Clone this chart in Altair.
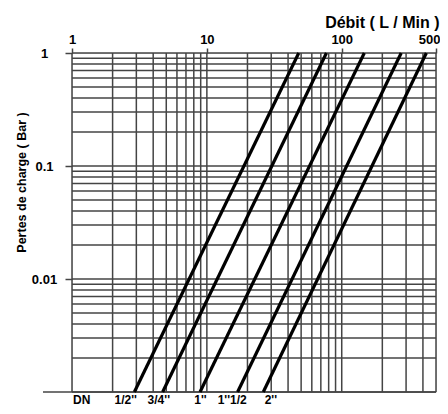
import altair as alt
import pandas as pd

# Grid values
x_grid = [1, 2, 3, 4, 5, 6, 7, 8, 9, 10, 20, 30, 40, 50, 60, 70, 80, 90, 100, 200, 300, 400, 500]
y_grid = [0.001, 0.002, 0.003, 0.004, 0.005, 0.006, 0.007, 0.008, 0.009,
          0.01, 0.02, 0.03, 0.04, 0.05, 0.06, 0.07, 0.08, 0.09,
          0.1, 0.2, 0.3, 0.4, 0.5, 0.6, 0.7, 0.8, 0.9, 1]

# Curves (flow at 0.001 bar and at 1 bar)
dn = ["1/2''", "3/4''", "1''", "1''1/2", "2''"]
q_low = [2.9, 4.7, 8.9, 16.9, 26.2]
q_high = [48, 77, 147, 276, 424]
p_low = 0.001
p_high = 1

# Bottom labels (flow position)
label_text = ["DN", "1/2''", "3/4''", "1''", "1''1/2", "2''"]
label_q = [1.18, 2.5, 4.4, 8.96, 15.4, 29.8]

x_ticks = [1, 10, 100, 500]
y_ticks = [1, 0.1, 0.01]

W, H = 364, 339
FONT = "Liberation Sans"
GRID = "#444444"

xs = alt.Scale(type="log", domain=[1, 500], nice=False)
ys = alt.Scale(type="log", domain=[0.001, 1], nice=False)

rows = []
for name, a, b in zip(dn, q_low, q_high):
    rows.append({"dn": name, "q": a, "p": p_low})
    rows.append({"dn": name, "q": b, "p": p_high})
curves = pd.DataFrame(rows)

vgrid = alt.Chart(pd.DataFrame({"x": x_grid})).mark_rule(color=GRID, strokeWidth=1.5).encode(
    x=alt.X("x:Q", scale=xs,
            axis=alt.Axis(orient="top", values=x_ticks, format="d", grid=False, domain=False,
                          tickSize=5, tickColor=GRID, tickWidth=1.5,
                          labelFont=FONT, labelFontSize=13, labelFontWeight="bold", labelColor="black",
                          labelPadding=2,
                          labelAlign=alt.condition("datum.value == 500", alt.value("right"), alt.value("center")),
                          labelOffset=alt.condition("datum.value == 500", alt.value(4), alt.value(0)),
                          title="Débit ( L / Min )", titleFont=FONT, titleFontSize=16,
                          titleFontWeight="bold", titleColor="black",
                          titleAlign="right", titleAnchor="end", titleX=367, titleY=-31,
                          titleBaseline="middle")),
)

hgrid = alt.Chart(pd.DataFrame({"y": y_grid})).mark_rule(color=GRID, strokeWidth=1.5).encode(
    y=alt.Y("y:Q", scale=ys,
            axis=alt.Axis(orient="left", values=y_ticks, format=".2~f", grid=False, domain=False,
                          tickSize=7, tickColor=GRID, tickWidth=1.5,
                          labelFont=FONT, labelFontSize=13, labelFontWeight="bold", labelColor="black",
                          labelAlign="center", labelPadding=21, labelBaseline="middle",
                          title="Pertes de charge ( Bar )", titleFont=FONT, titleFontSize=12.5,
                          titleFontWeight="bold", titleColor="black",
                          titleX=-51, titleY=129, titleBaseline="middle", titleAlign="center")),
)

bottom = alt.Chart(pd.DataFrame({"y": [p_low]})).mark_rule(color=GRID, strokeWidth=1.6).encode(
    x=alt.value(-29), x2=alt.value(W), y=alt.Y("y:Q", scale=ys)
)

lines = alt.Chart(curves).mark_line(color="black", strokeWidth=3.2).encode(
    x=alt.X("q:Q", scale=xs),
    y=alt.Y("p:Q", scale=ys),
    detail="dn:N",
)

labels = alt.Chart(pd.DataFrame({"t": label_text, "q": label_q})).mark_text(
    font=FONT, fontSize=12, fontWeight="bold", color="black", baseline="middle", align="center"
).encode(
    x=alt.X("q:Q", scale=xs),
    y=alt.value(H + 8),
    text="t:N",
)

chart = alt.layer(vgrid, hgrid, bottom, lines, labels).properties(
    width=W, height=H,
    autosize=alt.AutoSizeParams(type="none"),
    padding={"left": 64, "top": 45, "right": 4, "bottom": 14},
).configure_view(stroke=None).configure(background="white")

chart.save("out.html", embed_options={"renderer": "svg", "actions": False})
